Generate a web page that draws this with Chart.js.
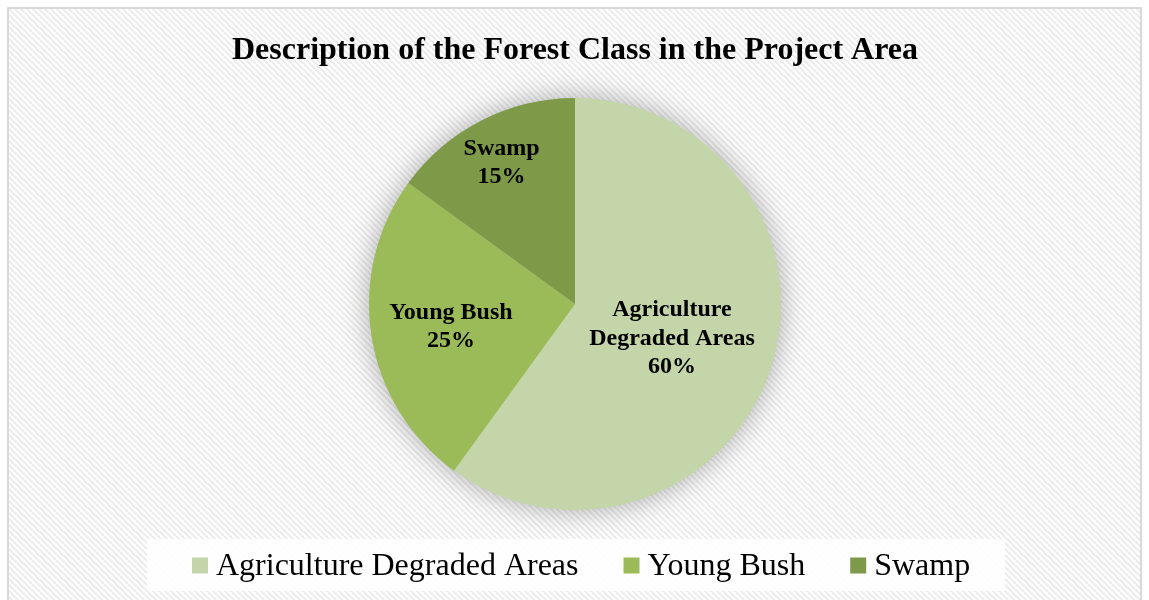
<!DOCTYPE html>
<html>
<head>
<meta charset="utf-8">
<title>Forest Class</title>
<script src="https://cdn.jsdelivr.net/npm/chart.js@4"></script>
<style>
  html, body { margin: 0; padding: 0; background: #fff; }
  #wrap { width: 1149px; height: 600px; }
</style>
</head>
<body>
<div id="wrap"><canvas id="forestPie" width="1149" height="600"></canvas></div>
<script>
// forest classes and their share of the project area (%)
const categories = ["Agriculture Degraded Areas", "Young Bush", "Swamp"];
const shares = [60, 25, 15];
const sliceColors = ["#c3d5a9", "#9bbb59", "#7e9a49"];
const chartTitle = "Description of the Forest Class in the Project Area";

// where each slice label sits, as a fraction of the radius
const labelRadius = [0.495, 0.61, 0.785];

const SERIF = "'Liberation Serif', 'Times New Roman', serif";

function hatchPattern(ctx) {
    const tile = document.createElement("canvas");
    tile.width = 6;
    tile.height = 6;
    const t = tile.getContext("2d");
    t.fillStyle = "#ffffff";
    t.fillRect(0, 0, 6, 6);
    t.strokeStyle = "#ececec";
    t.lineWidth = 2;
    t.beginPath();
    t.moveTo(-1, -1); t.lineTo(7, 7);
    t.moveTo(-1, 5); t.lineTo(1, 7);
    t.moveTo(5, -1); t.lineTo(7, 1);
    t.stroke();
    return ctx.createPattern(tile, "repeat");
}

// white page, hatched panel and its grey frame
const panelBackground = {
    id: "panelBackground",
    beforeDraw(chart) {
        const ctx = chart.ctx;
        ctx.save();
        ctx.fillStyle = "#ffffff";
        ctx.fillRect(0, 0, chart.width, chart.height);
        ctx.fillStyle = hatchPattern(ctx);
        ctx.fillRect(9, 9, 1131, chart.height);
        ctx.strokeStyle = "#d9d9d9";
        ctx.lineWidth = 2;
        ctx.strokeRect(8, 8, 1133, chart.height + 10);
        ctx.restore();
    }
};

// soft glow under the whole pie
const pieShadow = {
    id: "pieShadow",
    beforeDatasetsDraw(chart) {
        const arc = chart.getDatasetMeta(0).data[0];
        if (!arc) return;
        const { x, y, outerRadius } = arc.getProps(["x", "y", "outerRadius"], true);
        const ctx = chart.ctx;
        ctx.save();
        ctx.shadowColor = "rgba(0,0,0,0.34)";
        ctx.shadowBlur = 30;
        ctx.fillStyle = sliceColors[0];
        ctx.beginPath();
        ctx.arc(x, y, outerRadius - 1, 0, Math.PI * 2);
        ctx.fill();
        ctx.restore();
    }
};

function wrapWords(ctx, text, maxWidth) {
    const words = text.split(" ");
    const lines = [];
    let line = words[0];
    for (let i = 1; i < words.length; i++) {
        const test = line + " " + words[i];
        if (ctx.measureText(test).width > maxWidth) {
            lines.push(line);
            line = words[i];
        } else {
            line = test;
        }
    }
    lines.push(line);
    return lines;
}

// category name and percentage inside each slice
const sliceLabels = {
    id: "sliceLabels",
    afterDatasetsDraw(chart) {
        const ctx = chart.ctx;
        const data = chart.data.datasets[0].data;
        const total = data.reduce((a, b) => a + b, 0);
        ctx.save();
        ctx.font = "bold 24px " + SERIF;
        ctx.fillStyle = "#000";
        ctx.textAlign = "center";
        ctx.textBaseline = "middle";
        chart.getDatasetMeta(0).data.forEach((arc, i) => {
            const p = arc.getProps(["x", "y", "startAngle", "endAngle", "outerRadius"], true);
            const mid = (p.startAngle + p.endAngle) / 2;
            const r = p.outerRadius * labelRadius[i];
            const cx = p.x + Math.cos(mid) * r;
            const cy = p.y + Math.sin(mid) * r + 3;
            const lines = wrapWords(ctx, chart.data.labels[i], 180);
            lines.push(Math.round(data[i] / total * 100) + "%");
            const lh = 28.5;
            const y0 = cy - (lines.length - 1) * lh / 2;
            lines.forEach((txt, k) => ctx.fillText(txt, cx, y0 + k * lh));
        });
        ctx.restore();
    }
};

// legend strip along the bottom
const bottomLegend = {
    id: "bottomLegend",
    afterDraw(chart) {
        const ctx = chart.ctx;
        const colors = chart.data.datasets[0].backgroundColor;
        const boxLeft = 147, boxTop = 539, boxW = 858, boxH = 52;
        ctx.save();
        ctx.fillStyle = "rgba(255,255,255,0.88)";
        ctx.fillRect(boxLeft, boxTop, boxW, boxH);
        ctx.font = "32px " + SERIF;
        ctx.textBaseline = "middle";
        ctx.textAlign = "left";
        let x = boxLeft + 45;
        const midY = 565;
        chart.data.labels.forEach((label, i) => {
            ctx.fillStyle = colors[i];
            ctx.fillRect(x, midY - 7.5, 16, 16);
            ctx.fillStyle = "#000";
            ctx.fillText(label, x + 24, midY + 2);
            x += 24 + ctx.measureText(label).width + 45;
        });
        ctx.restore();
    }
};

new Chart(document.getElementById("forestPie"), {
    type: "pie",
    data: {
        labels: categories,
        datasets: [{
            data: shares,
            backgroundColor: sliceColors,
            borderWidth: 0,
            hoverOffset: 0
        }]
    },
    options: {
        responsive: false,
        animation: false,
        events: [],
        layout: { padding: { top: 0, bottom: 90, left: 1, right: 0 } },
        plugins: {
            legend: { display: false },
            tooltip: { enabled: false },
            title: {
                display: true,
                text: chartTitle,
                color: "#000",
                font: { family: SERIF, size: 32, weight: "bold", lineHeight: 1.2 },
                padding: { top: 31.8, bottom: 27.8 }
            }
        }
    },
    plugins: [panelBackground, pieShadow, sliceLabels, bottomLegend]
});
</script>
</body>
</html>
